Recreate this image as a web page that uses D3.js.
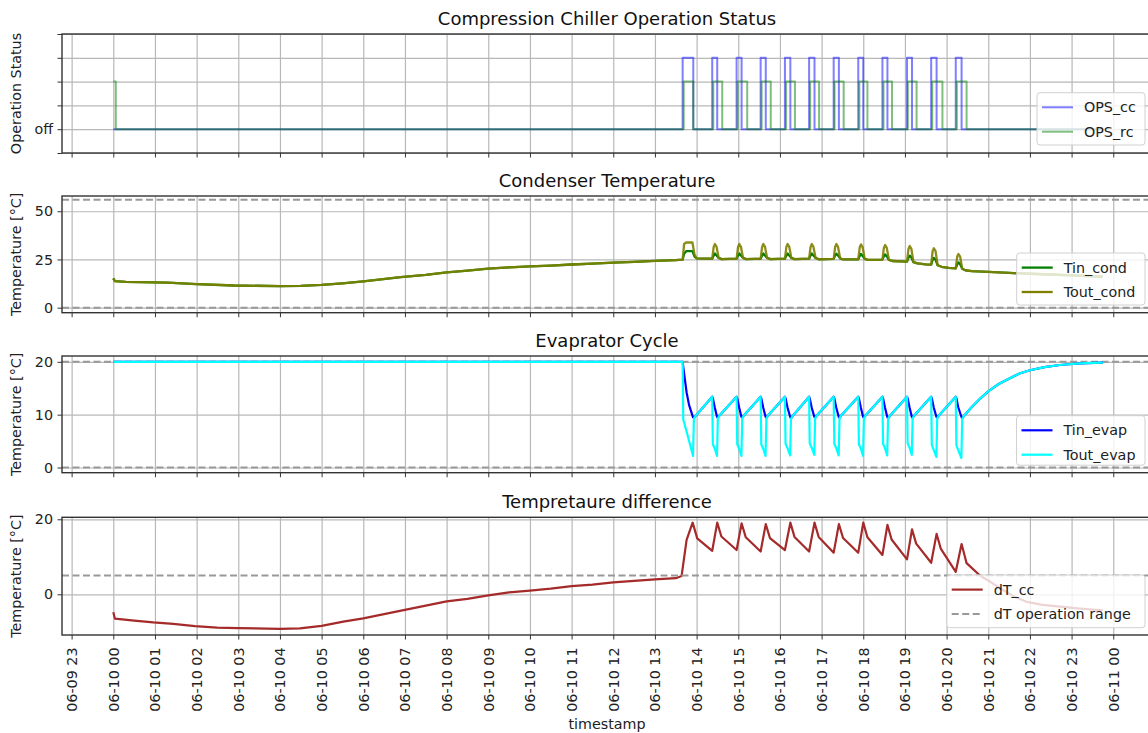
<!DOCTYPE html>
<html>
<head>
<meta charset="utf-8">
<script src="https://cdn.jsdelivr.net/npm/d3@7"></script>
<style>
  body { margin: 0; background: #fff; }
  svg { display: block; font-family: "DejaVu Sans", sans-serif; }
</style>
</head>
<body>
<svg id="chart" width="1148" height="733"></svg>
<script>
// ---------------- data (hours after 06-10 00:00) ----------------

// Operation status: on/off switching times of the compression chiller (cc) and re-cooler (rc)
const ccOn  = [13.665, 14.375, 14.96, 15.537, 16.12, 16.70, 17.29, 17.88, 18.46, 19.05, 19.63, 20.22];
const ccOff = [13.92, 14.495, 15.08, 15.66, 16.25, 16.83, 17.415, 18.0, 18.58, 19.17, 19.76, 20.36];
const rcOn  = [0.0, 13.69, 14.40, 14.985, 15.56, 16.145, 16.725, 17.31, 17.905, 18.485, 19.07, 19.655, 20.245];
const rcOff = [0.06, 13.92, 14.615, 15.215, 15.78, 16.36, 16.94, 17.53, 18.10, 18.69, 19.28, 19.90, 20.48];
const ccLevel = 3;
const rcLevel = 2;
const statusEnd = 23.75;
const statusTicks = [-1, 0, 1, 2, 3, 4];
const statusLabels = ["", "off", "", "", "", ""];

// Condenser temperatures
const condHours = [0, 0.04, 0.3, 1.3, 2.0, 2.9, 4.0, 4.5, 5.0, 5.5, 6.0, 6.9, 7.5, 8.0, 8.5, 9.0, 9.5, 10.0, 10.5, 11.0, 11.5, 12.0, 12.5, 13.0, 13.5,
  13.665, 13.70, 13.75, 13.90, 13.95, 14.0, 14.2,
  14.375, 14.41, 14.44, 14.48, 14.53, 14.6, 14.8,
  14.96, 14.995, 15.025, 15.065, 15.115, 15.19, 15.4,
  15.537, 15.572, 15.602, 15.642, 15.692, 15.77, 15.95,
  16.12, 16.155, 16.185, 16.225, 16.275, 16.35, 16.55,
  16.70, 16.735, 16.765, 16.805, 16.855, 16.93, 17.1,
  17.29, 17.325, 17.355, 17.395, 17.445, 17.52, 17.7,
  17.88, 17.915, 17.945, 17.985, 18.035, 18.11, 18.3,
  18.46, 18.495, 18.525, 18.565, 18.615, 18.7, 18.9,
  19.05, 19.085, 19.115, 19.155, 19.205, 19.3, 19.5,
  19.63, 19.665, 19.695, 19.735, 19.785, 19.88, 20.05,
  20.22, 20.255, 20.285, 20.325, 20.375, 20.45, 20.6,
  21.0, 21.5, 22.0, 22.5, 23.0, 23.5, 23.75];
const tinCond = [15.2, 13.8, 13.4, 13.0, 12.2, 11.5, 11.2, 11.3, 11.8, 12.6, 13.6, 15.8, 17.0, 18.3, 19.2, 20.2, 20.9, 21.4, 21.8, 22.4, 22.8, 23.4, 23.8, 24.3, 24.7,
  24.9, 28.0, 29.3, 29.3, 26.5, 25.6, 25.4,
  25.4, 27.0, 28.1, 27.0, 25.8, 25.2, 25.3,
  25.4, 27.0, 28.1, 27.0, 25.8, 25.2, 25.3,
  25.4, 27.0, 28.1, 27.0, 25.8, 25.2, 25.3,
  25.4, 27.0, 28.1, 27.0, 25.8, 25.2, 25.3,
  25.4, 27.0, 28.1, 27.0, 25.8, 25.1, 25.2,
  25.3, 27.0, 28.0, 27.0, 25.6, 25.0, 25.0,
  25.1, 26.8, 27.9, 26.8, 25.3, 24.8, 24.8,
  24.9, 26.6, 27.6, 26.6, 24.8, 24.2, 24.0,
  23.9, 26.0, 27.0, 26.0, 23.6, 23.0, 22.5,
  22.3, 24.8, 25.8, 24.8, 22.0, 21.2, 20.6,
  20.4, 22.5, 23.5, 22.5, 20.2, 19.4, 19.0,
  18.6, 18.0, 17.6, 17.2, 16.8, 16.3, 16.1];
const toutCond = [15.2, 13.8, 13.4, 13.0, 12.2, 11.5, 11.2, 11.3, 11.8, 12.6, 13.6, 15.8, 17.0, 18.3, 19.2, 20.2, 20.9, 21.4, 21.8, 22.4, 22.8, 23.4, 23.8, 24.3, 24.7,
  24.9, 33.0, 33.8, 33.8, 27.5, 25.6, 25.4,
  25.4, 31.5, 33.0, 31.5, 25.8, 25.2, 25.3,
  25.4, 31.5, 33.0, 31.5, 25.8, 25.2, 25.3,
  25.4, 31.5, 33.0, 31.5, 25.8, 25.2, 25.3,
  25.4, 31.5, 33.0, 31.5, 25.8, 25.2, 25.3,
  25.4, 31.5, 33.0, 31.5, 25.8, 25.1, 25.2,
  25.3, 31.5, 33.0, 31.5, 25.6, 25.0, 25.0,
  25.1, 31.3, 32.8, 31.3, 25.3, 24.8, 24.8,
  24.9, 31.0, 32.5, 31.0, 24.8, 24.2, 24.0,
  23.9, 30.5, 32.0, 30.5, 23.6, 23.0, 22.5,
  22.3, 29.3, 30.8, 29.3, 22.0, 21.2, 20.6,
  20.4, 26.5, 27.8, 26.5, 20.2, 19.4, 19.0,
  18.6, 18.0, 17.6, 17.2, 16.8, 16.3, 16.1];
const condLimits = [0, 56];

// Evaporator temperatures
const evapHours = [0, 13.665,
  13.68, 13.70, 13.76, 13.82, 13.915, 13.935, 13.96,
  14.375, 14.39, 14.435, 14.49, 14.51, 14.545,
  14.96, 14.975, 15.02, 15.075, 15.095, 15.13,
  15.537, 15.552, 15.597, 15.655, 15.675, 15.71,
  16.12, 16.135, 16.18, 16.245, 16.265, 16.30,
  16.70, 16.715, 16.76, 16.825, 16.845, 16.88,
  17.29, 17.305, 17.35, 17.41, 17.43, 17.465,
  17.88, 17.895, 17.94, 17.995, 18.015, 18.05,
  18.46, 18.475, 18.52, 18.575, 18.595, 18.63,
  19.05, 19.065, 19.11, 19.165, 19.185, 19.22,
  19.63, 19.645, 19.69, 19.755, 19.775, 19.81,
  20.22, 20.235, 20.28, 20.355, 20.375, 20.41,
  20.6, 20.8, 21.0, 21.25, 21.52, 21.75, 22.0, 22.35, 22.72, 23.2, 23.75];
const tinEvap = [20.0, 20.0,
  19.0, 17.8, 14.2, 11.8, 9.5, 9.4, 9.6,
  13.4, 13.1, 11.4, 9.6, 9.4, 9.8,
  13.4, 13.1, 11.4, 9.6, 9.4, 9.8,
  13.4, 13.1, 11.4, 9.6, 9.4, 9.8,
  13.4, 13.1, 11.4, 9.6, 9.3, 9.7,
  13.4, 13.1, 11.4, 9.6, 9.4, 9.8,
  13.4, 13.1, 11.4, 9.6, 9.4, 9.8,
  13.4, 13.1, 11.4, 9.6, 9.4, 9.8,
  13.4, 13.1, 11.4, 9.6, 9.3, 9.7,
  13.4, 13.1, 11.4, 9.6, 9.4, 9.8,
  13.4, 13.1, 11.4, 9.6, 9.4, 9.8,
  13.4, 13.1, 11.4, 9.6, 9.3, 9.7,
  11.4, 13.0, 14.4, 15.8, 16.9, 17.8, 18.4, 19.0, 19.4, 19.7, 19.85];
const toutEvap = [20.0, 20.0,
  9.1, 8.5, 6.8, 5.0, 2.2, 9.3, 9.6,
  13.4, 4.4, 3.6, 2.2, 9.3, 9.8,
  13.4, 4.4, 3.6, 2.2, 9.3, 9.8,
  13.4, 4.4, 3.6, 2.2, 9.3, 9.8,
  13.4, 4.5, 3.7, 2.3, 9.2, 9.7,
  13.4, 4.6, 3.8, 2.4, 9.3, 9.8,
  13.4, 4.5, 3.7, 2.3, 9.3, 9.8,
  13.4, 4.4, 3.6, 2.2, 9.3, 9.8,
  13.4, 4.5, 3.7, 2.3, 9.2, 9.7,
  13.4, 4.6, 3.8, 2.4, 9.3, 9.8,
  13.4, 4.3, 3.4, 2.0, 9.3, 9.8,
  13.4, 4.2, 3.3, 1.8, 9.2, 9.7,
  11.4, 13.0, 14.4, 15.8, 16.9, 17.8, 18.4, 19.0, 19.4, 19.7, 19.85];
const evapLimits = [0, 20];

// Temperature difference
const dtHours = [0, 0.04, 0.5, 0.96, 1.44, 1.96, 2.49, 3.0, 4.0, 4.48, 5.0, 5.52, 6.0, 6.88, 7.5, 8.0, 8.5, 9.0, 9.5, 10.0, 10.5, 11.0, 11.5, 12.0, 12.5, 13.0, 13.5,
  13.64, 13.76, 13.905, 14.015,
  14.375, 14.495, 14.595,
  14.96, 15.08, 15.18,
  15.537, 15.66, 15.76,
  16.12, 16.25, 16.35,
  16.70, 16.83, 16.93,
  17.29, 17.415, 17.515,
  17.88, 18.0, 18.10,
  18.46, 18.58, 18.68,
  19.05, 19.17, 19.27,
  19.63, 19.76, 19.86,
  20.22, 20.36, 20.48,
  20.8, 21.04, 21.3, 21.6, 21.92, 22.3, 22.72, 23.2, 23.75];
const dtCC = [-4.8, -6.5, -7.0, -7.5, -7.9, -8.5, -8.9, -9.0, -9.2, -9.1, -8.4, -7.3, -6.4, -4.4, -3.0, -1.9, -1.2, -0.3, 0.5, 1.0, 1.5, 2.2, 2.6, 3.2, 3.6, 4.0, 4.3,
  4.9, 14.5, 19.1, 14.9,
  11.6, 19.1, 15.4,
  11.8, 18.9, 15.2,
  11.4, 18.7, 15.0,
  11.8, 19.1, 15.3,
  11.4, 19.1, 15.3,
  11.1, 18.7, 15.0,
  11.1, 19.1, 15.2,
  10.5, 18.5, 14.6,
  9.3, 17.3, 13.5,
  8.4, 16.1, 12.2,
  6.0, 13.4, 8.3,
  5.0, 3.4, 1.5, -0.5, -2.0, -2.8, -3.3, -3.8, -4.3];
const dtLimit = [5];

// ---------------- layout ----------------
const svg = d3.select("#chart");
const left = 62, right = 1152;
const t0 = new Date(2021, 5, 10, 0, 0, 0);
const at = h => new Date(t0.getTime() + h * 3600e3);

const x = d3.scaleTime().domain([at(-1.231), at(24.93)]).range([left, right]);
const hourTicks = d3.range(-1, 25).map(at);
const fmt = d3.timeFormat("%m-%d %H");

const FONT = 14.3;
const gridColor = "#b8b8b8";
const spineColor = "#333";

const panels = [
  { title: "Compression Chiller Operation Status", ylabel: "Operation Status", top: 34, bottom: 153, domain: [-1, 4],
    ticks: statusTicks, tickFormat: (d, i) => statusLabels[i] },
  { title: "Condenser Temperature", ylabel: "Temperature [°C]", top: 196, bottom: 312.7, domain: [-2.6, 57.9],
    ticks: [0, 25, 50], tickFormat: d3.format("d") },
  { title: "Evaprator Cycle", ylabel: "Temperature [°C]", top: 356, bottom: 472.7, domain: [-0.98, 21.1],
    ticks: [0, 10, 20], tickFormat: d3.format("d") },
  { title: "Tempretaure difference", ylabel: "Temperature [°C]", top: 517.3, bottom: 635, domain: [-10.85, 20.53],
    ticks: [0, 20], tickFormat: d3.format("d") }
];

panels.forEach((p, i) => {
  p.y = d3.scaleLinear().domain(p.domain).range([p.bottom, p.top]);
  p.g = svg.append("g");
  svg.append("clipPath").attr("id", "clip" + i)
    .append("rect").attr("x", left).attr("y", p.top).attr("width", right - left).attr("height", p.bottom - p.top);

  // grid
  const grid = p.g.append("g").attr("class", "grid");
  grid.append("g").attr("transform", `translate(0,${p.bottom})`)
    .call(d3.axisBottom(x).tickValues(hourTicks).tickSize(-(p.bottom - p.top)).tickFormat(""));
  grid.append("g").attr("transform", `translate(${left},0)`)
    .call(d3.axisLeft(p.y).tickValues(p.ticks).tickSize(-(right - left)).tickFormat(""));
  grid.selectAll(".domain").remove();
  grid.selectAll("line").attr("stroke", gridColor).attr("stroke-width", 1.2);

  p.plot = p.g.append("g").attr("clip-path", `url(#clip${i})`);

  // title
  p.g.append("text").attr("x", (left + right) / 2).attr("y", p.top - 9)
    .attr("text-anchor", "middle").attr("font-size", 18).attr("fill", "#111").text(p.title);

  // y label
  p.g.append("text")
    .attr("transform", `translate(21,${(p.top + p.bottom) / 2}) rotate(-90)`)
    .attr("text-anchor", "middle").attr("font-size", FONT).attr("fill", "#222").text(p.ylabel);
});

const line = (y, curve) => d3.line().x(d => x(at(d[0]))).y(d => y(d[1])).curve(curve || d3.curveLinear);
const zip = (hs, vs) => hs.map((h, i) => [h, vs[i]]);

function hline(p, v) {
  p.plot.append("line")
    .attr("x1", left).attr("x2", right).attr("y1", p.y(v)).attr("y2", p.y(v))
    .attr("stroke", "#999").attr("stroke-width", 2).attr("stroke-dasharray", "7,3.5");
}

function drawSeries(p, pts, color, width, opacity, curve) {
  p.plot.append("path").datum(pts)
    .attr("d", line(p.y, curve))
    .attr("fill", "none").attr("stroke", color).attr("stroke-width", width)
    .attr("stroke-opacity", opacity).attr("stroke-linejoin", "round");
}

// step series for the status panel
function stepPoints(ons, offs, level) {
  const pts = [];
  if (ons[0] > 0) pts.push([0, 0]);
  ons.forEach((o, i) => { pts.push([o, level]); pts.push([offs[i], 0]); });
  pts.push([statusEnd, 0]);
  return pts;
}

const [P1, P2, P3, P4] = panels;

drawSeries(P1, stepPoints(ccOn, ccOff, ccLevel), "blue", 2, 0.5, d3.curveStepAfter);
drawSeries(P1, stepPoints(rcOn, rcOff, rcLevel), "green", 2, 0.5, d3.curveStepAfter);

condLimits.forEach(v => hline(P2, v));
drawSeries(P2, zip(condHours, tinCond), "green", 2.3, 1);
drawSeries(P2, zip(condHours, toutCond), "olive", 2.3, 0.9);

evapLimits.forEach(v => hline(P3, v));
drawSeries(P3, zip(evapHours, tinEvap), "blue", 2.2, 1);
drawSeries(P3, zip(evapHours, toutEvap), "cyan", 2.2, 1);

drawSeries(P4, zip(dtHours, dtCC), "brown", 2.2, 1);
dtLimit.forEach(v => hline(P4, v));

// axes, ticks and frames
panels.forEach((p, i) => {
  const ya = p.g.append("g").attr("transform", `translate(${left},0)`)
    .call(d3.axisLeft(p.y).tickValues(p.ticks).tickFormat(p.tickFormat).tickSize(4.5).tickPadding(4.5));
  ya.select(".domain").remove();
  ya.selectAll("text").attr("font-size", FONT).attr("fill", "#222").attr("font-family", "DejaVu Sans");
  ya.selectAll("line").attr("stroke", spineColor);

  const xa = p.g.append("g").attr("transform", `translate(0,${p.bottom})`)
    .call(d3.axisBottom(x).tickValues(hourTicks).tickFormat(i === 3 ? fmt : "").tickSize(4.5));
  xa.select(".domain").remove();
  xa.selectAll("line").attr("stroke", spineColor);
  if (i === 3) {
    xa.selectAll("text")
      .attr("font-size", FONT).attr("fill", "#222").attr("font-family", "DejaVu Sans")
      .attr("text-anchor", "end")
      .attr("transform", "translate(0,12.5) rotate(-90)")
      .attr("x", 0).attr("y", 0).attr("dy", "0.35em");
  }

  p.g.append("rect").attr("x", left).attr("y", p.top)
    .attr("width", right - left).attr("height", p.bottom - p.top)
    .attr("fill", "none").attr("stroke", spineColor).attr("stroke-width", 1.4);
});

// x axis label
svg.append("text").attr("x", (left + right) / 2).attr("y", 729)
  .attr("text-anchor", "middle").attr("font-size", FONT).attr("fill", "#222").text("timestamp");

// legends
function legend(box, items) {
  const g = svg.append("g");
  g.append("rect").attr("x", box.x).attr("y", box.y).attr("width", box.w).attr("height", box.h)
    .attr("rx", 3).attr("fill", "#fff").attr("fill-opacity", 0.8)
    .attr("stroke", "#d0d0d0").attr("stroke-width", 1);
  items.forEach((it, k) => {
    const cy = box.y + 14.6 + k * 24.4;
    g.append("line").attr("x1", box.x + 5).attr("x2", box.x + 36).attr("y1", cy).attr("y2", cy)
      .attr("stroke", it.color).attr("stroke-width", it.width).attr("stroke-opacity", it.opacity)
      .attr("stroke-dasharray", it.dash || null);
    g.append("text").attr("x", box.x + 47).attr("y", cy).attr("dy", "0.35em")
      .attr("font-size", FONT).attr("fill", "#222").text(it.label);
  });
}

legend({ x: 1037, y: 92.7, w: 108, h: 52.3 }, [
  { label: "OPS_cc", color: "blue", width: 2, opacity: 0.5 },
  { label: "OPS_rc", color: "green", width: 2, opacity: 0.5 }
]);
legend({ x: 1016.7, y: 253, w: 128.3, h: 52 }, [
  { label: "Tin_cond", color: "green", width: 2.3, opacity: 1 },
  { label: "Tout_cond", color: "olive", width: 2.3, opacity: 1 }
]);
legend({ x: 1016.5, y: 415.7, w: 128.5, h: 49.5 }, [
  { label: "Tin_evap", color: "blue", width: 2.2, opacity: 1 },
  { label: "Tout_evap", color: "cyan", width: 2.2, opacity: 1 }
]);
legend({ x: 946.7, y: 575, w: 198.3, h: 52.7 }, [
  { label: "dT_cc", color: "brown", width: 2.2, opacity: 1 },
  { label: "dT operation range", color: "#999", width: 2, opacity: 1, dash: "7,3.5" }
]);
</script>
</body>
</html>
